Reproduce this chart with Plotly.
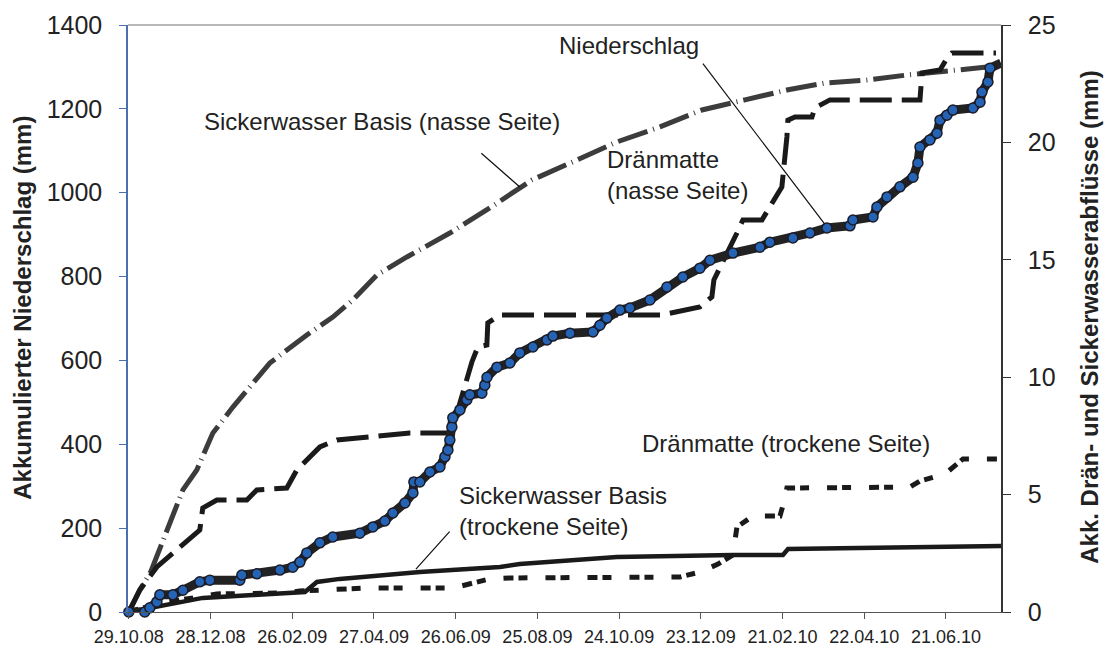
import pandas as pd
import plotly.graph_objects as go

START = pd.Timestamp("2008-10-29")

# days after 29.10.08 / cumulative precipitation (mm, left axis)
nieder_days = [0, 11.7, 15.4, 20.6, 22.8, 32.3, 39.7, 52.1, 59.5, 81.5, 83.0, 94.0, 110.9, 120.4,
               125.6, 130.7, 140.3, 149.8, 169.6, 179.2, 188.0, 193.9, 202.7, 208.6, 209.3, 213.7,
               221.1, 228.4, 232.1, 234.3, 235.7, 237.2, 237.9, 243.1, 248.2, 250.4, 259.2, 261.4,
               263.0, 270.3, 279.8, 287.1, 296.7, 307.0, 311.4, 323.9, 340.8, 345.9, 351.0, 360.6,
               367.9, 382.6, 395.1, 406.8, 419.3, 426.7, 443.6, 463.4, 470.7, 487.6, 500.1, 512.6,
               529.5, 531.7, 546.4, 549.3, 556.7, 566.2, 575.8, 579.4, 580.9, 588.2, 593.4, 595.6,
               600.7, 605.1, 619.8, 625.0, 626.4, 630.8, 632.3, 640.4]
nieder_mm = [0, 0, 10, 24, 41, 41, 52, 72, 76, 76, 88, 91, 100, 107,
             119, 141, 165, 179, 188, 203, 217, 236, 260, 284, 310, 310,
             334, 346, 370, 386, 410, 441, 463, 482, 506, 518, 522, 541,
             560, 584, 594, 618, 632, 649, 658, 665, 668, 684, 701, 720,
             725, 744, 775, 799, 820, 839, 856, 870, 882, 892, 904, 916,
             921, 935, 942, 966, 990, 1014, 1037, 1071, 1109, 1126, 1142, 1173,
             1185, 1197, 1202, 1216, 1240, 1264, 1297, 1309]

# Sickerwasser Basis (nasse Seite), mm right axis
sw_nass_days = [0, 8.1, 16, 22.8, 30.1, 39.7, 49.9, 61.7, 76.4, 86.7, 103.5, 130.7, 149.8, 164.5,
                182.1, 204.2, 235.7, 265.1, 296.0, 329.0, 358.4, 390.0, 420.8, 452.4, 483.2,
                511.1, 542.0, 571.4, 602.9, 630.1]
sw_nass_mm = [0, 0.94, 1.7, 2.73, 3.83, 5.2, 6.05, 7.62, 8.73, 9.45, 10.6, 11.8, 12.56, 13.29,
              14.35, 15.12, 16.14, 17.21, 18.4, 19.25, 20.02, 20.66, 21.38, 21.81, 22.23,
              22.53, 22.66, 22.87, 23.08, 23.21]

# Dränmatte (nasse Seite)
dm_nass_days = [0, 8.1, 20.6, 52.1, 54.3, 64.6, 86.7, 94.0, 116.0, 123.4, 140.3, 152.8, 206.4,
                235.7, 241.6, 244.5, 251.9, 256.3, 262.9, 263.6, 272.5, 391.4, 398.8, 419.3,
                428.1, 429.6, 446.5, 450.9, 464.9, 469.3, 479.5, 483.2, 483.9, 489.1, 501.6,
                503.8, 514.8, 580.9, 582.4, 595.6, 600.0, 604.4, 636.7]
dm_nass_mm = [0, 0.94, 1.92, 3.49, 4.43, 4.77, 4.77, 5.2, 5.28, 6.05, 7.03, 7.33, 7.62,
              7.62, 8.6, 9.16, 10.65, 11.29, 11.37, 12.31, 12.65, 12.65, 12.73, 12.99,
              13.42, 14.14, 16.14, 16.7, 16.7, 17.12, 18.1, 20.23, 20.95, 21.08, 21.08,
              21.47, 21.81, 21.81, 22.96, 23.08, 23.51, 23.81, 23.81]

# Dränmatte (trockene Seite)
dm_tr_days = [0, 22.8, 52.1, 64.6, 116.0, 125.6, 142.5, 174.8, 237.9, 248.2, 265.1, 279.8,
              404.6, 419.3, 432.6, 443.6, 446.5, 458.3, 478.1, 481.0, 483.2, 573.5, 580.9,
              599.3, 608.8, 612.5, 640.4]
dm_tr_mm = [0, 0.38, 0.64, 0.77, 0.81, 0.89, 0.94, 1.02, 1.02, 1.15, 1.41, 1.45,
            1.49, 1.7, 2.04, 2.43, 3.62, 4.09, 4.09, 4.68, 5.28, 5.32, 5.58,
            5.88, 6.39, 6.52, 6.52]

# Sickerwasser Basis (trockene Seite)
sw_tr_days = [0, 17.6, 54.3, 91.1, 129.3, 138.1, 155.0, 213.7, 272.5, 287.1, 358.4, 443.6,
              480.3, 484.0, 542.0, 640.4]
sw_tr_mm = [0, 0.21, 0.6, 0.72, 0.85, 1.28, 1.41, 1.7, 1.92, 2.04, 2.34, 2.43,
            2.43, 2.68, 2.73, 2.81]

tick_labels = ["29.10.08", "28.12.08", "26.02.09", "27.04.09", "26.06.09", "25.08.09",
               "24.10.09", "23.12.09", "21.02.10", "22.04.10", "21.06.10"]


def to_dates(days):
    return START + pd.to_timedelta(days, unit="D")


FONT = "Liberation Sans, Arial, sans-serif"
INK = "#1a1a1a"

fig = go.Figure()

fig.add_trace(go.Scatter(x=to_dates(sw_nass_days), y=sw_nass_mm, mode="lines", yaxis="y",
                         line=dict(color="#3c3c3c", width=5, dash="31px,6px,1px,6px")))
fig.add_trace(go.Scatter(x=to_dates(dm_nass_days), y=dm_nass_mm, mode="lines", yaxis="y",
                         line=dict(color=INK, width=5, dash="32px,10px")))
fig.add_trace(go.Scatter(x=to_dates(dm_tr_days), y=dm_tr_mm, mode="lines", yaxis="y",
                         line=dict(color=INK, width=5, dash="10px,5px,9px,18px")))
fig.add_trace(go.Scatter(x=to_dates(sw_tr_days), y=sw_tr_mm, mode="lines", yaxis="y",
                         line=dict(color=INK, width=4.5)))
fig.add_trace(go.Scatter(x=to_dates(nieder_days), y=nieder_mm, mode="lines+markers", yaxis="y2",
                         line=dict(color="#222222", width=9),
                         marker=dict(size=10, color="#2563b4", line=dict(color="#1c1c28", width=1.5)),
                         cliponaxis=False))

tickvals = [START + pd.Timedelta(days=60 * i) for i in range(len(tick_labels))]

fig.update_layout(
    width=1104, height=648,
    margin=dict(l=128, r=103, t=25, b=36, autoexpand=False),
    paper_bgcolor="white", plot_bgcolor="white",
    showlegend=False,
    font=dict(family=FONT, color="#222222"),
    xaxis=dict(range=[START - pd.Timedelta(days=0.6), START + pd.Timedelta(days=640.4)],
               tickvals=tickvals, ticktext=tick_labels, tickfont=dict(size=18),
               showgrid=False, zeroline=False, showline=True, linecolor="#555555", linewidth=1.2,
               ticks="outside", ticklen=6, tickcolor="#555555", ticklabelstandoff=2,
               automargin=False),
    yaxis=dict(range=[0, 25], dtick=5, side="right", showgrid=False, zeroline=False,
               showline=True, linecolor="#333333", linewidth=1.5,
               ticks="outside", ticklen=8, tickcolor="#333333",
               tickfont=dict(size=25), ticklabelstandoff=12, automargin=False),
    yaxis2=dict(range=[0, 1400], dtick=200, side="left", overlaying="y", showgrid=False,
                zeroline=False, showline=True, linecolor="#4a70b0", linewidth=1.5,
                ticks="outside", ticklen=7, tickcolor="#4a70b0",
                tickfont=dict(size=25), ticklabelstandoff=12, automargin=False),
    yaxis3=dict(range=[0, 1400], dtick=200, side="left", overlaying="y", showgrid=False,
                zeroline=False, showline=False, ticks="inside", ticklen=7, tickcolor="#4a70b0",
                showticklabels=False, automargin=False),
    yaxis4=dict(range=[0, 25], dtick=5, side="right", overlaying="y", showgrid=False,
                zeroline=False, showline=False, ticks="inside", ticklen=8, tickcolor="#333333",
                showticklabels=False, automargin=False),
)

# top frame line
fig.add_shape(type="line", xref="paper", yref="paper", x0=0, x1=1, y0=1, y1=1,
              line=dict(color="#a0a0a0", width=1.5))

ann_font = dict(family=FONT, size=24, color="#222222")

# axis titles
fig.add_annotation(text="<b>Akkumulierter Niederschlag (mm)</b>", xref="paper", yref="paper",
                   x=-0.121, y=0.519, xanchor="center", yanchor="middle", textangle=-90,
                   showarrow=False, font=dict(family=FONT, size=24, color="#222222"))
fig.add_annotation(text="<b>Akk. Drän- und Sickerwasserabflüsse (mm)</b>", xref="paper", yref="paper",
                   x=1.102, y=0.503, xanchor="center", yanchor="middle", textangle=-90,
                   showarrow=False, font=dict(family=FONT, size=24, color="#222222"))

# labels
fig.add_annotation(text="Sickerwasser Basis (nasse Seite)", x=to_dates([53.6])[0], y=1169,
                   xref="x", yref="y2", xanchor="left", yanchor="middle", showarrow=False, font=ann_font)
fig.add_annotation(text="Niederschlag", x=to_dates([314.3])[0], y=1352,
                   xref="x", yref="y2", xanchor="left", yanchor="middle", showarrow=False, font=ann_font)
fig.add_annotation(text="Dränmatte<br>(nasse Seite)", x=to_dates([349.6])[0], y=1042, align="left",
                   xref="x", yref="y2", xanchor="left", yanchor="middle", showarrow=False, font=ann_font)
fig.add_annotation(text="Dränmatte (trockene Seite)", x=to_dates([375.3])[0], y=403,
                   xref="x", yref="y2", xanchor="left", yanchor="middle", showarrow=False, font=ann_font)
fig.add_annotation(text="Sickerwasser Basis<br>(trockene Seite)", x=to_dates([240.9])[0], y=241,
                   align="left", xref="x", yref="y2", xanchor="left", yanchor="middle",
                   showarrow=False, font=ann_font)

# leader lines
leader = dict(showarrow=True, arrowhead=0, arrowwidth=1.2, arrowcolor="#111111", text="",
              standoff=0, startstandoff=0)
fig.add_annotation(x=to_dates([287.1])[0], y=18.1, xref="x", yref="y", ax=-40, ay=-35, **leader)
fig.add_annotation(x=to_dates([511.0])[0], y=925, xref="x", yref="y2", ax=-123, ay=-162, **leader)
fig.add_annotation(x=to_dates([210.8])[0], y=1.83, xref="x", yref="y", ax=35, ay=-39, **leader)

fig.write_html("out.html", config={"displayModeBar": False})

# drop the default page margin so the figure sits at the window origin
with open("out.html", encoding="utf-8") as f:
    page = f.read()
page = page.replace("<head>", "<head><style>html,body{margin:0;padding:0;overflow:hidden}</style>", 1)
with open("out.html", "w", encoding="utf-8") as f:
    f.write(page)
